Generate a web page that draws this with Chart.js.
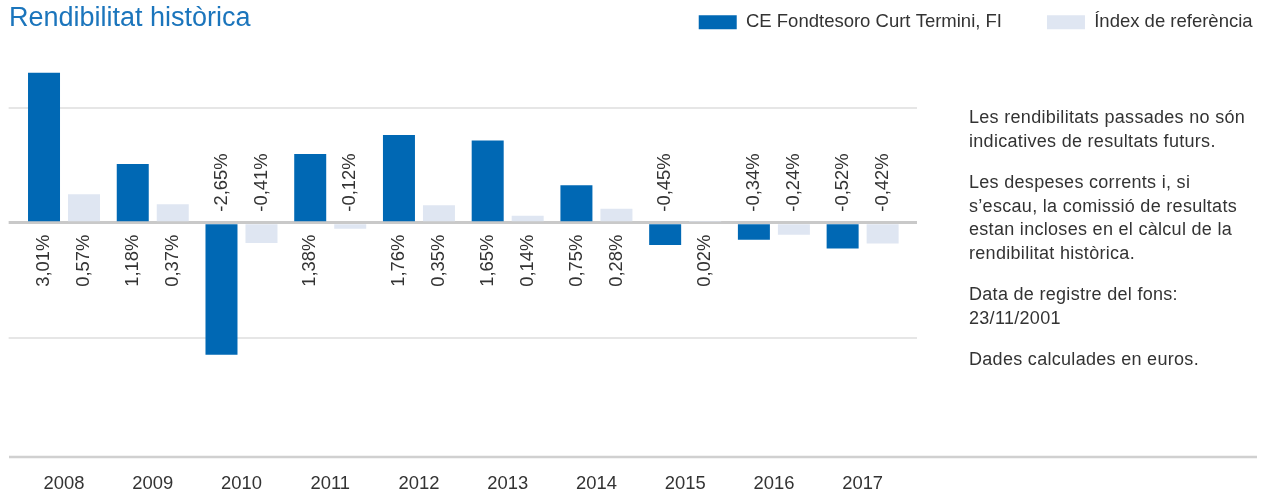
<!DOCTYPE html>
<html>
<head>
<meta charset="utf-8">
<script src="https://cdn.jsdelivr.net/npm/chart.js@4"></script>
<style>
  body { margin: 0; background: #fff; font-family: 'Liberation Sans', Arial, sans-serif; }
  #wrap { position: relative; width: 1270px; height: 491px; }
  #title { position: absolute; left: 9px; top: 4px; font-size: 27px; line-height: 27px; color: #1b75bc; white-space: nowrap; }
  #notes { position: absolute; left: 969px; top: 106px; font-size: 18px; letter-spacing: 0.3px; line-height: 23.5px; color: #333; white-space: nowrap; }
  #notes p { margin: 0 0 18px 0; }
  canvas { position: absolute; left: 0; top: 0; }
</style>
</head>
<body>
<div id="wrap">
  <canvas id="chart" width="1270" height="491"></canvas>
  <div id="title">Rendibilitat històrica</div>
  <div id="notes">
    <p>Les rendibilitats passades no són<br>indicatives de resultats futurs.</p>
    <p>Les despeses corrents i, si<br>s’escau, la comissió de resultats<br>estan incloses en el càlcul de la<br>rendibilitat històrica.</p>
    <p>Data de registre del fons:<br>23/11/2001</p>
    <p>Dades calculades en euros.</p>
  </div>
</div>
<script>
const years = ['2008', '2009', '2010', '2011', '2012', '2013', '2014', '2015', '2016', '2017'];
const fundReturns = [3.01, 1.18, -2.65, 1.38, 1.76, 1.65, 0.75, -0.45, -0.34, -0.52];
const indexReturns = [0.57, 0.37, -0.41, -0.12, 0.35, 0.14, 0.28, 0.02, -0.24, -0.42];
const gridValues = [-2.31, 0, 2.31];

const Y_MIN = -4.722;
const Y_MAX = 3.636;

const fmtPct = v => v.toFixed(2).replace('.', ',') + '%';

const gridColor = ctx => ctx.tick && ctx.tick.value === 0 ? '#c9c9c9' : '#e6e6e6';
const gridWidth = ctx => ctx.tick && ctx.tick.value === 0 ? 3 : 2;
const setGridTicks = scale => { scale.ticks = gridValues.map(v => ({ value: v })); };

// rotated value labels next to the zero line
const valueLabels = {
  id: 'valueLabels',
  afterDatasetsDraw(chart) {
    const ctx = chart.ctx;
    const zero = chart.scales.y.getPixelForValue(0);
    chart.data.datasets.forEach((ds, i) => {
      chart.getDatasetMeta(i).data.forEach((bar, j) => {
        const v = ds.data[j];
        ctx.save();
        ctx.translate(bar.x, v >= 0 ? zero + 12 : zero - 11);
        ctx.rotate(-Math.PI / 2);
        ctx.font = "18.4px 'Liberation Sans', Arial, sans-serif";
        ctx.fillStyle = '#333';
        ctx.textAlign = v >= 0 ? 'right' : 'left';
        ctx.textBaseline = 'middle';
        ctx.fillText(fmtPct(v), 0, 0);
        ctx.restore();
      });
    });
  }
};

// bottom rule runs under the notes too
const baseLine = {
  id: 'baseLine',
  beforeDatasetsDraw(chart) {
    const ctx = chart.ctx;
    const y = chart.scales.x.top - 1;
    ctx.save();
    ctx.strokeStyle = '#d0d0d0';
    ctx.lineWidth = 2.5;
    ctx.beginPath();
    ctx.moveTo(9, y);
    ctx.lineTo(1257, y);
    ctx.stroke();
    ctx.restore();
  }
};

Chart.defaults.font.family = "'Liberation Sans', Arial, sans-serif";
Chart.defaults.color = '#333';

new Chart(document.getElementById('chart'), {
  type: 'bar',
  data: {
    labels: years,
    datasets: [
      {
        label: 'CE Fondtesoro Curt Termini, FI',
        data: fundReturns,
        backgroundColor: '#0068b4',
        borderWidth: 0,
        categoryPercentage: 0.9016,
        barPercentage: 0.8
      },
      {
        label: 'Índex de referència',
        data: indexReturns,
        backgroundColor: '#dfe6f2',
        borderWidth: 0,
        categoryPercentage: 0.9016,
        barPercentage: 0.8
      }
    ]
  },
  options: {
    responsive: false,
    animation: false,
    events: [],
    layout: { padding: { left: 9, right: -27.6, top: -32, bottom: 0 } },
    scales: {
      x: {
        grid: { display: false },
        border: { display: false },
        ticks: { font: { size: 18.4 }, color: '#333', padding: 7 },
        afterFit: s => { s.height = 33; }
      },
      y: {
        min: Y_MIN,
        max: Y_MAX,
        afterBuildTicks: setGridTicks,
        ticks: { display: false },
        border: { display: false },
        grid: { color: gridColor, tickColor: gridColor, lineWidth: gridWidth, tickLength: 11 },
        afterFit: s => { s.width = 10.65; }
      },
      y2: {
        type: 'linear',
        position: 'right',
        min: Y_MIN,
        max: Y_MAX,
        afterBuildTicks: setGridTicks,
        ticks: { display: false },
        border: { display: false },
        grid: { drawOnChartArea: false, color: gridColor, tickColor: gridColor, lineWidth: gridWidth, tickLength: 10 },
        afterFit: s => { s.width = 390.6; }
      }
    },
    plugins: {
      legend: {
        position: 'top',
        align: 'end',
        labels: { boxWidth: 38, boxHeight: 14, padding: 45, font: { size: 18.5 }, color: '#333' }
      },
      tooltip: { enabled: false }
    }
  },
  plugins: [valueLabels, baseLine]
});
</script>
</body>
</html>
